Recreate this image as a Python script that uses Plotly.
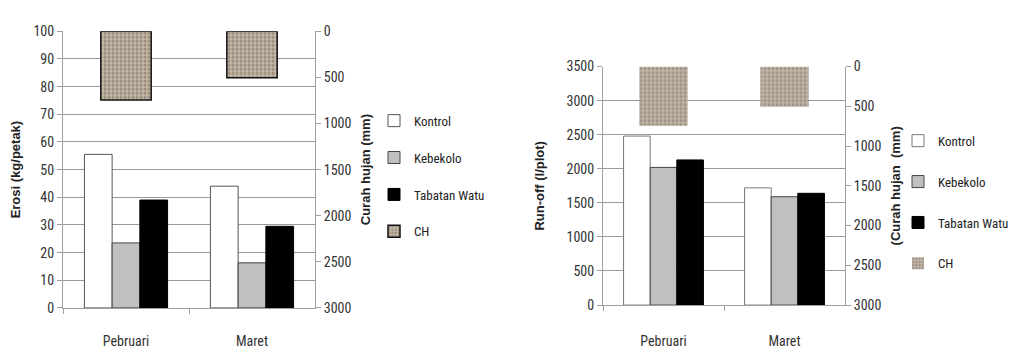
import plotly.graph_objects as go

months = ["Pebruari", "Maret"]
series_names = ["Kontrol", "Kebekolo", "Tabatan Watu"]

erosi_kontrol = [55.5, 44.0]
erosi_kebekolo = [23.5, 16.3]
erosi_tabatan = [39.0, 29.5]

runoff_kontrol = [2480, 1720]
runoff_kebekolo = [2020, 1590]
runoff_tabatan = [2130, 1640]

curah_hujan = [745, 505]

left_ticks_1 = [0, 10, 20, 30, 40, 50, 60, 70, 80, 90, 100]
left_ticks_2 = [0, 500, 1000, 1500, 2000, 2500, 3000, 3500]
right_ticks = [0, 500, 1000, 1500, 2000, 2500, 3000]

W, H = 1020, 348
NARROW = "Liberation Sans Narrow, Roboto Condensed, Arial Narrow, Liberation Sans, sans-serif"
BOLD = "Liberation Sans, Arial, sans-serif"

fills = ["#ffffff", "#c0c0c0", "#000000"]
lines1 = ["#555555", "#444444", "#000000"]
offsets = [-0.33, -0.11, 0.11]
bw = 0.22

fig = go.Figure()

def px_x(a, b):
    return [a / W, b / W]

def px_y(top, bottom):
    return [1 - bottom / H, 1 - top / H]

# ---- chart 1 ----
for i, (name, vals) in enumerate(zip(series_names, [erosi_kontrol, erosi_kebekolo, erosi_tabatan])):
    fig.add_trace(go.Bar(
        x=months, y=vals, name=name, xaxis="x", yaxis="y",
        width=bw, offset=offsets[i],
        marker=dict(color=fills[i], line=dict(color=lines1[i], width=1)),
        legend="legend", legendgroup="a%d" % i,
    ))
fig.add_trace(go.Bar(
    x=months, y=curah_hujan, name="CH", xaxis="x", yaxis="y2",
    width=0.40, offset=-0.20,
    marker=dict(color="#b8aa99", line=dict(color="#111111", width=1.5),
                pattern=dict(shape=".", fgcolor="#6f6152", bgcolor="#c4b7a6", size=4, solidity=0.45)),
    legend="legend", legendgroup="a3",
))

# ---- chart 2 ----
for i, (name, vals) in enumerate(zip(series_names, [runoff_kontrol, runoff_kebekolo, runoff_tabatan])):
    fig.add_trace(go.Bar(
        x=months, y=vals, name=name, xaxis="x2", yaxis="y3",
        width=bw, offset=offsets[i],
        marker=dict(color=fills[i], line=dict(color=["#777777", "#444444", "#000000"][i], width=1)),
        legend="legend2", legendgroup="b%d" % i,
    ))
fig.add_trace(go.Bar(
    x=months, y=curah_hujan, name="CH", xaxis="x2", yaxis="y4",
    width=0.40, offset=-0.20,
    marker=dict(color="#b8aa99", line=dict(width=0),
                pattern=dict(shape=".", fgcolor="#7a6c5e", bgcolor="#c2b6a8", size=4, solidity=0.45)),
    legend="legend2", legendgroup="b3",
))

grid = "#9a9a9a"
axis_line = "#a0a0a0"
tickfont = dict(family=NARROW, size=14, color="#333333")
titlefont = dict(family=BOLD, size=13, color="#222222", weight="bold")

common_x = dict(type="category", range=[-0.5, 1.5], showline=True, linecolor=axis_line,
                ticks="outside", tickson="boundaries", ticklen=5, tickcolor=axis_line,
                showgrid=False, tickfont=tickfont, fixedrange=True)

fig.update_layout(
    width=W, height=H, margin=dict(l=0, r=0, t=0, b=0),
    paper_bgcolor="white", plot_bgcolor="white",
    barmode="overlay", showlegend=True,
    xaxis=dict(domain=px_x(55, 307), anchor="y", ticklabelstandoff=20, **common_x),
    yaxis=dict(domain=px_y(16, 306), range=[0, 100], tickvals=left_ticks_1,
               showgrid=True, gridcolor=grid, gridwidth=1, showline=True, linecolor=axis_line,
               ticks="outside", ticklen=5, tickcolor=axis_line, tickfont=tickfont,
               title=dict(text="Erosi (kg/petak)", font=titlefont, standoff=10),
               zeroline=False),
    yaxis2=dict(overlaying="y", side="right", anchor="x", range=[3000, 0], tickvals=right_ticks,
                showgrid=False, showline=True, linecolor=axis_line, ticks="outside", ticklen=5,
                tickcolor=axis_line, tickfont=tickfont, zeroline=False,
                title=dict(text="Curah hujan (mm)", font=titlefont, standoff=10)),
    xaxis2=dict(domain=px_x(595, 837), anchor="y3", ticklabelstandoff=23, **common_x),
    yaxis3=dict(domain=px_y(53, 303), range=[0, 3500], tickvals=left_ticks_2, anchor="x2",
                showgrid=True, gridcolor=grid, gridwidth=1, showline=True, linecolor=axis_line,
                ticks="outside", ticklen=5, tickcolor=axis_line, tickfont=tickfont,
                title=dict(text="Run-off (l/plot)", font=titlefont, standoff=18),
                zeroline=False),
    yaxis4=dict(overlaying="y3", side="right", anchor="x2", range=[3000, 0], tickvals=right_ticks,
                showgrid=False, showline=True, linecolor=axis_line, ticks="outside", ticklen=5,
                tickcolor=axis_line, tickfont=tickfont, zeroline=False,
                title=dict(text="(Curah hujan  (mm)", font=titlefont, standoff=10)),
    legend=dict(x=366 / W, y=1 - 94 / H, xanchor="left", yanchor="top",
                font=dict(family=NARROW, size=13, color="#222222"), tracegroupgap=17,
                traceorder="grouped", itemwidth=30, bgcolor="rgba(0,0,0,0)"),
    legend2=dict(x=890 / W, y=1 - 115 / H, xanchor="left", yanchor="top",
                 font=dict(family=NARROW, size=13, color="#222222"), tracegroupgap=21,
                 traceorder="grouped", itemwidth=30, bgcolor="rgba(0,0,0,0)"),
)

fig.write_html("out.html")
